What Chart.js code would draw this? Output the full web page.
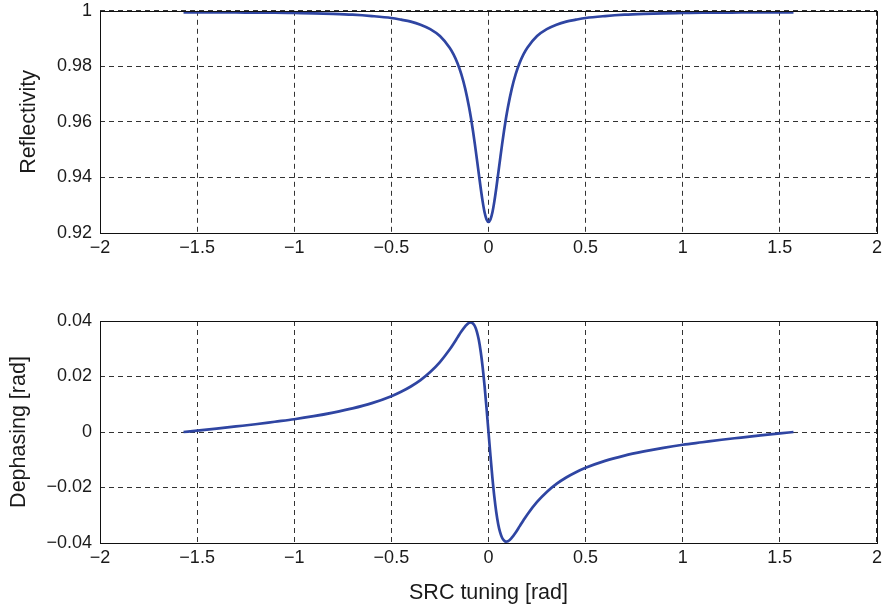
<!DOCTYPE html>
<html lang="en">
<head>
    <meta charset="UTF-8">
    <title>SRC tuning</title>
    <script src="https://cdn.jsdelivr.net/npm/chart.js"></script>
    <style>
        body {
            margin: 0;
            background: #fff;
            width: 886px;
            height: 608px;
            position: relative;
            overflow: hidden;
        }

        canvas {
            position: absolute;
            left: 0;
        }

        /* the top panel sits a bit higher so its plot box starts at 10px */
        #reflChart { top: -8px; }
        #dephChart { top: 290px; }
    </style>
</head>
<body>

    <canvas id="reflChart" width="886" height="275"></canvas>
    <canvas id="dephChart" width="886" height="318"></canvas>

    <script>
        // x ticks shared by both panels
        const xTicks = [-2, -1.5, -1, -0.5, 0, 0.5, 1, 1.5, 2];
        const xTickLabels = ['\u22122', '\u22121.5', '\u22121', '\u22120.5', '0', '0.5', '1', '1.5', '2'];

        const reflTicks = [0.92, 0.94, 0.96, 0.98, 1];
        const reflTickLabels = ['0.92', '0.94', '0.96', '0.98', '1'];

        const dephTicks = [-0.04, -0.02, 0, 0.02, 0.04];
        const dephTickLabels = ['\u22120.04', '\u22120.02', '0', '0.02', '0.04'];

        // SRC tuning [rad]
        const tuning = [
            -1.57, -1.5, -1.4, -1.3, -1.2, -1.1, -1.0, -0.9, -0.8, -0.7, -0.6, -0.5, -0.45, -0.4, -0.35, -0.3,
            -0.25, -0.2, -0.18, -0.16, -0.14, -0.12, -0.1, -0.09, -0.08, -0.07, -0.06, -0.05, -0.04, -0.03, -0.02, -0.01,
            0,
            0.01, 0.02, 0.03, 0.04, 0.05, 0.06, 0.07, 0.08, 0.09, 0.1, 0.12, 0.14, 0.16, 0.18, 0.2,
            0.25, 0.3, 0.35, 0.4, 0.45, 0.5, 0.6, 0.7, 0.8, 0.9, 1.0, 1.1, 1.2, 1.3, 1.4, 1.5, 1.57
        ];

        const reflectivity = [
            0.9994, 0.9994, 0.9994, 0.9994, 0.9993, 0.9993, 0.9992, 0.9991, 0.9989, 0.9986, 0.9981, 0.9974, 0.9968, 0.9961, 0.9950, 0.9934,
            0.9909, 0.9867, 0.9843, 0.9812, 0.9772, 0.9720, 0.9653, 0.9613, 0.9568, 0.9519, 0.9467, 0.9414, 0.9361, 0.9313, 0.9274, 0.9249,
            0.9240,
            0.9249, 0.9274, 0.9313, 0.9361, 0.9414, 0.9467, 0.9519, 0.9568, 0.9613, 0.9653, 0.9720, 0.9772, 0.9812, 0.9843, 0.9867,
            0.9909, 0.9934, 0.9950, 0.9961, 0.9968, 0.9974, 0.9981, 0.9986, 0.9989, 0.9991, 0.9992, 0.9993, 0.9993, 0.9994, 0.9994, 0.9994, 0.9994
        ];

        const dephasing = [
            0, 0.0005, 0.0012, 0.0020, 0.0028, 0.0037, 0.0046, 0.0057, 0.0070, 0.0085, 0.0104, 0.0129, 0.0145, 0.0164, 0.0187, 0.0216,
            0.0252, 0.0297, 0.0318, 0.0340, 0.0362, 0.0381, 0.0394, 0.0395, 0.0391, 0.0381, 0.0362, 0.0332, 0.0289, 0.0233, 0.0164, 0.0085,
            0,
            -0.0085, -0.0164, -0.0233, -0.0289, -0.0332, -0.0362, -0.0381, -0.0391, -0.0395, -0.0394, -0.0381, -0.0362, -0.0340, -0.0318, -0.0297,
            -0.0252, -0.0216, -0.0187, -0.0164, -0.0145, -0.0129, -0.0104, -0.0085, -0.0070, -0.0057, -0.0046, -0.0037, -0.0028, -0.0020, -0.0012, -0.0005, 0
        ];

        Chart.defaults.font.family = "'Liberation Sans', Arial, sans-serif";
        Chart.defaults.color = '#1a1a1a';

        const lineColor = '#2f45a2';
        const gridColor = '#333';

        // closed box around the plot area, like the original figure
        const boxPlugin = {
            id: 'box',
            afterDatasetsDraw(chart) {
                const { ctx, chartArea: a } = chart;
                ctx.save();
                ctx.strokeStyle = '#111';
                ctx.lineWidth = 1;
                ctx.strokeRect(Math.round(a.left) + 0.5, Math.round(a.top) + 0.5,
                    Math.round(a.right - a.left), Math.round(a.bottom - a.top));
                ctx.restore();
            }
        };

        function setTicks(values, labels) {
            return function (axis) {
                axis.ticks = values.map((v, i) => ({ value: v, label: labels[i] }));
            };
        }

        function makeChart(id, yValues, yTicks, yLabels, yTitle, yTitlePad, padTop, xAxisHeight, showXTitle) {
            const ctx = document.getElementById(id).getContext('2d');
            return new Chart(ctx, {
                type: 'line',
                data: {
                    datasets: [{
                        data: tuning.map((x, i) => ({ x: x, y: yValues[i] })),
                        borderColor: lineColor,
                        borderWidth: 2.7,
                        pointRadius: 0,
                        cubicInterpolationMode: 'monotone',
                        fill: false
                    }]
                },
                options: {
                    responsive: false,
                    animation: false,
                    layout: { padding: { top: padTop, right: 8, left: 0, bottom: 0 } },
                    plugins: {
                        legend: { display: false },
                        tooltip: { enabled: false }
                    },
                    scales: {
                        x: {
                            type: 'linear',
                            min: -2,
                            max: 2,
                            afterBuildTicks: setTicks(xTicks, xTickLabels),
                            afterFit: function (axis) { axis.height = xAxisHeight; },
                            ticks: {
                                autoSkip: false,
                                maxRotation: 0,
                                padding: 4,
                                font: { size: 18 },
                                callback: function (v, i) { return xTickLabels[i]; }
                            },
                            grid: { color: gridColor, lineWidth: 1, drawTicks: false },
                            border: { display: false, dash: [5, 4] },
                            title: {
                                display: showXTitle,
                                text: 'SRC tuning [rad]',
                                font: { size: 21.5 },
                                padding: { top: 0, bottom: 2 }
                            }
                        },
                        y: {
                            type: 'linear',
                            min: yTicks[0],
                            max: yTicks[yTicks.length - 1],
                            afterBuildTicks: setTicks(yTicks, yLabels),
                            afterFit: function (axis) { axis.width = 100; },
                            ticks: {
                                padding: 8,
                                font: { size: 18 },
                                callback: function (v, i) { return yLabels[i]; }
                            },
                            grid: { color: gridColor, lineWidth: 1, drawTicks: false },
                            border: { display: false, dash: [5, 4] },
                            title: {
                                display: true,
                                text: yTitle,
                                font: { size: 21.5 },
                                padding: { top: yTitlePad, bottom: 0 }
                            }
                        }
                    }
                },
                plugins: [boxPlugin]
            });
        }

        makeChart('reflChart', reflectivity, reflTicks, reflTickLabels, 'Reflectivity', 16, 2, 34, false);
        makeChart('dephChart', dephasing, dephTicks, dephTickLabels, 'Dephasing [rad]', 6, 31, 65, true);
    </script>

</body>
</html>
